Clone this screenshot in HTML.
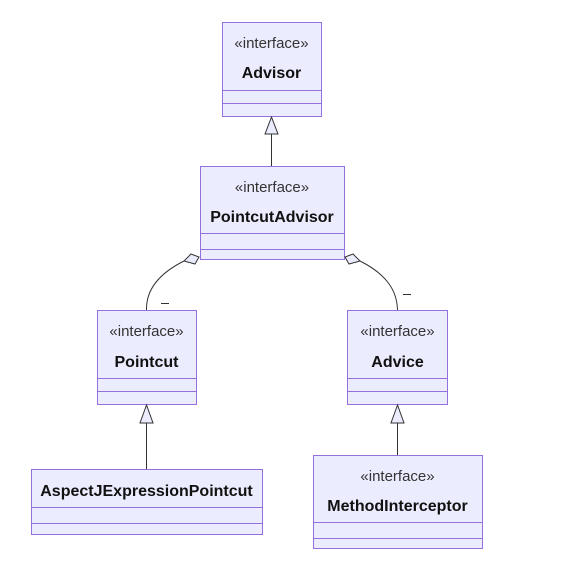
<!DOCTYPE html>
<html><head><style>body{margin:0;background:#fff}</style></head><body>
<svg width="587" height="568" xmlns="http://www.w3.org/2000/svg" font-family="'Liberation Sans','DejaVu Sans',sans-serif">
<g fill="#ECECFF" stroke="#9370DB" stroke-width="1">
<rect x="222.5" y="22.5" width="99" height="94"/>
<line x1="222" y1="90.5" x2="321" y2="90.5"/><line x1="222" y1="103.5" x2="321" y2="103.5"/>
<rect x="200.5" y="166.5" width="144" height="93"/>
<line x1="200" y1="233.5" x2="344" y2="233.5"/><line x1="200" y1="249.5" x2="344" y2="249.5"/>
<rect x="97.5" y="310.5" width="99" height="94"/>
<line x1="97" y1="378.5" x2="196" y2="378.5"/><line x1="97" y1="391.5" x2="196" y2="391.5"/>
<rect x="347.5" y="310.5" width="100" height="94"/>
<line x1="347" y1="378.5" x2="447" y2="378.5"/><line x1="347" y1="391.5" x2="447" y2="391.5"/>
<rect x="31.5" y="469.5" width="231" height="65"/>
<line x1="31" y1="507.5" x2="262" y2="507.5"/><line x1="31" y1="523.5" x2="262" y2="523.5"/>
<rect x="313.5" y="455.5" width="169" height="93"/>
<line x1="313" y1="522.5" x2="482" y2="522.5"/><line x1="313" y1="538.5" x2="482" y2="538.5"/>
</g>
<g stroke="#333" stroke-width="1" fill="none">
<line x1="271.5" y1="134" x2="271.5" y2="166"/>
<line x1="146.5" y1="423" x2="146.5" y2="469"/>
<line x1="397.5" y1="423" x2="397.5" y2="455"/>
<path d="M184 261 C158 274 146 290 146.5 310"/>
<path d="M360 261 C386 274 397 290 397.5 310"/>
</g>
<g stroke="#333" stroke-width="1" fill="#ECECFF">
<path d="M271.5 117 L265 134 L278 134 Z"/>
<path d="M146.5 405 L140 423 L153 423 Z"/>
<path d="M397.5 405 L391 423 L404 423 Z"/>
<path d="M191 254 L199 257 L195 264 L184 261 Z"/>
<path d="M353 254 L345 257 L349 264 L360 261 Z"/>
</g>
<g font-size="15" fill="#333" text-anchor="middle">
<text x="271.5" y="48">«interface»</text>
<text x="272" y="192">«interface»</text>
<text x="146.5" y="336">«interface»</text>
<text x="397.5" y="336">«interface»</text>
<text x="397.5" y="481">«interface»</text>
</g>
<g font-size="16" font-weight="bold" fill="#111" text-anchor="middle">
<text x="271.5" y="78">Advisor</text>
<text x="272" y="222">PointcutAdvisor</text>
<text x="146.5" y="367">Pointcut</text>
<text x="397.5" y="367">Advice</text>
<text x="146.5" y="496">AspectJExpressionPointcut</text>
<text x="397.5" y="511">MethodInterceptor</text>
</g>
<g stroke="#333" stroke-width="1"><line x1="161" y1="303.5" x2="169" y2="303.5"/><line x1="403" y1="294.5" x2="411" y2="294.5"/></g>
</svg>
</body></html>
